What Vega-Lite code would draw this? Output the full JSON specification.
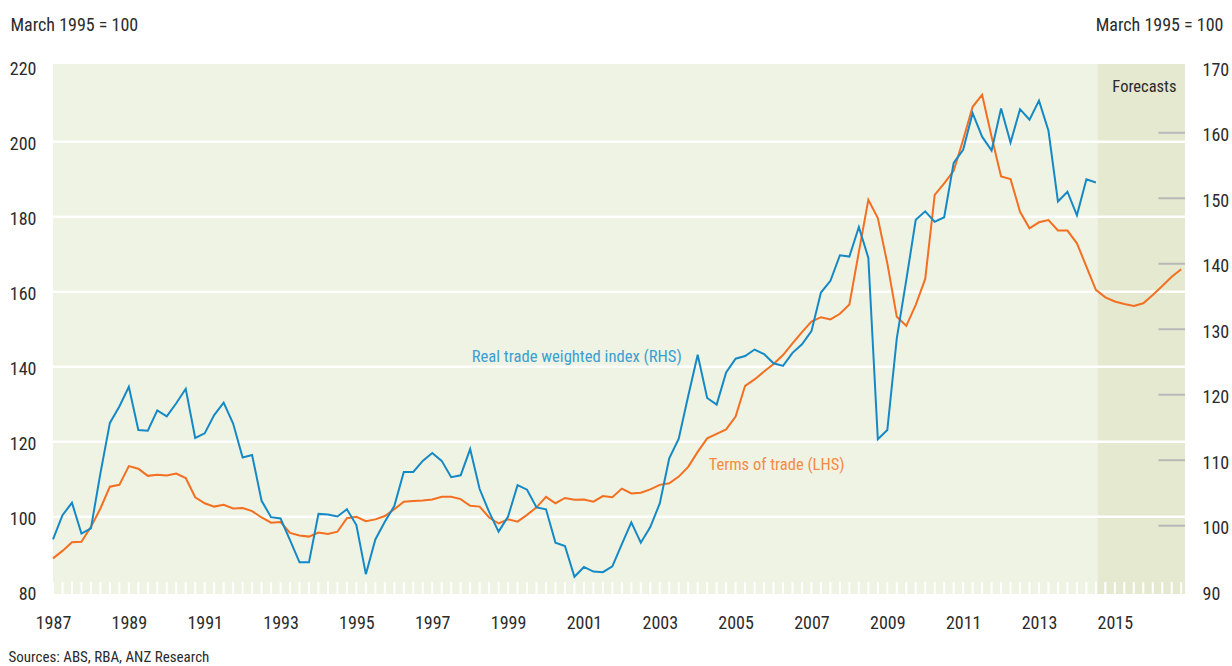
{
  "$schema": "https://vega.github.io/schema/vega-lite/v6.json",
  "width": 1132,
  "height": 530,
  "autosize": {"type": "none"},
  "padding": {"left": 53, "top": 64, "right": 47, "bottom": 72},
  "background": "white",
  "config": {
    "view": {"fill": "#EFF3E3", "stroke": null},
    "font": "Roboto Condensed, Liberation Sans Narrow, DejaVu Sans Condensed, sans-serif"
  },
  "datasets": {
    "tot": [
      {"t":1987,"v":88.9},{"t":1987.25,"v":90.9},{"t":1987.5,"v":93.2},{"t":1987.75,"v":93.3},
      {"t":1988,"v":97.3},{"t":1988.25,"v":102.2},{"t":1988.5,"v":108.0},{"t":1988.75,"v":108.5},
      {"t":1989,"v":113.5},{"t":1989.25,"v":112.8},{"t":1989.5,"v":110.9},{"t":1989.75,"v":111.2},
      {"t":1990,"v":111.0},{"t":1990.25,"v":111.5},{"t":1990.5,"v":110.3},{"t":1990.75,"v":105.2},
      {"t":1991,"v":103.6},{"t":1991.25,"v":102.7},{"t":1991.5,"v":103.2},{"t":1991.75,"v":102.2},
      {"t":1992,"v":102.3},{"t":1992.25,"v":101.5},{"t":1992.5,"v":99.8},{"t":1992.75,"v":98.4},
      {"t":1993,"v":98.6},{"t":1993.25,"v":95.7},{"t":1993.5,"v":95.0},{"t":1993.75,"v":94.7},
      {"t":1994,"v":95.8},{"t":1994.25,"v":95.4},{"t":1994.5,"v":96.0},{"t":1994.75,"v":99.6},
      {"t":1995,"v":100.0},{"t":1995.25,"v":98.8},{"t":1995.5,"v":99.3},{"t":1995.75,"v":100.2},
      {"t":1996,"v":102.0},{"t":1996.25,"v":104.0},{"t":1996.5,"v":104.2},{"t":1996.75,"v":104.3},
      {"t":1997,"v":104.6},{"t":1997.25,"v":105.3},{"t":1997.5,"v":105.3},{"t":1997.75,"v":104.7},
      {"t":1998,"v":102.9},{"t":1998.25,"v":102.7},{"t":1998.5,"v":99.8},{"t":1998.75,"v":98.2},
      {"t":1999,"v":99.3},{"t":1999.25,"v":98.7},{"t":1999.5,"v":100.5},{"t":1999.75,"v":102.5},
      {"t":2000,"v":105.3},{"t":2000.25,"v":103.6},{"t":2000.5,"v":105.0},{"t":2000.75,"v":104.5},
      {"t":2001,"v":104.6},{"t":2001.25,"v":104.0},{"t":2001.5,"v":105.5},{"t":2001.75,"v":105.2},
      {"t":2002,"v":107.5},{"t":2002.25,"v":106.2},{"t":2002.5,"v":106.4},{"t":2002.75,"v":107.3},
      {"t":2003,"v":108.5},{"t":2003.25,"v":108.9},{"t":2003.5,"v":110.7},{"t":2003.75,"v":113.3},
      {"t":2004,"v":117.3},{"t":2004.25,"v":120.9},{"t":2004.5,"v":122.1},{"t":2004.75,"v":123.3},
      {"t":2005,"v":126.7},{"t":2005.25,"v":134.9},{"t":2005.5,"v":136.6},{"t":2005.75,"v":138.7},
      {"t":2006,"v":140.7},{"t":2006.25,"v":143.1},{"t":2006.5,"v":146.2},{"t":2006.75,"v":149.2},
      {"t":2007,"v":152.0},{"t":2007.25,"v":153.2},{"t":2007.5,"v":152.6},{"t":2007.75,"v":154.1},
      {"t":2008,"v":156.6},{"t":2008.25,"v":170.6},{"t":2008.5,"v":184.5},{"t":2008.75,"v":179.6},
      {"t":2009,"v":167.6},{"t":2009.25,"v":153.3},{"t":2009.5,"v":150.9},{"t":2009.75,"v":156.5},
      {"t":2010,"v":163.4},{"t":2010.25,"v":185.8},{"t":2010.5,"v":188.9},{"t":2010.75,"v":192.2},
      {"t":2011,"v":200.5},{"t":2011.25,"v":209.3},{"t":2011.5,"v":212.5},{"t":2011.75,"v":201.3},
      {"t":2012,"v":190.7},{"t":2012.25,"v":190.0},{"t":2012.5,"v":181.3},{"t":2012.75,"v":176.9},
      {"t":2013,"v":178.5},{"t":2013.25,"v":179.1},{"t":2013.5,"v":176.3},{"t":2013.75,"v":176.3},
      {"t":2014,"v":172.9},{"t":2014.25,"v":166.7},{"t":2014.5,"v":160.5},{"t":2014.75,"v":158.5},
      {"t":2015,"v":157.4},{"t":2015.25,"v":156.7},{"t":2015.5,"v":156.2},{"t":2015.75,"v":156.9},
      {"t":2016,"v":159.1},{"t":2016.25,"v":161.5},{"t":2016.5,"v":164.0},{"t":2016.75,"v":166.0}
    ],
    "rtwi": [
      {"t":1987,"v":97.9},{"t":1987.25,"v":101.6},{"t":1987.5,"v":103.5},{"t":1987.75,"v":98.8},
      {"t":1988,"v":99.6},{"t":1988.25,"v":108.0},{"t":1988.5,"v":115.7},{"t":1988.75,"v":118.2},
      {"t":1989,"v":121.2},{"t":1989.25,"v":114.6},{"t":1989.5,"v":114.5},{"t":1989.75,"v":117.6},
      {"t":1990,"v":116.7},{"t":1990.25,"v":118.7},{"t":1990.5,"v":120.9},{"t":1990.75,"v":113.4},
      {"t":1991,"v":114.1},{"t":1991.25,"v":116.9},{"t":1991.5,"v":118.8},{"t":1991.75,"v":115.6},
      {"t":1992,"v":110.4},{"t":1992.25,"v":110.8},{"t":1992.5,"v":103.8},{"t":1992.75,"v":101.3},
      {"t":1993,"v":101.1},{"t":1993.25,"v":97.8},{"t":1993.5,"v":94.4},{"t":1993.75,"v":94.4},
      {"t":1994,"v":101.8},{"t":1994.25,"v":101.7},{"t":1994.5,"v":101.4},{"t":1994.75,"v":102.5},
      {"t":1995,"v":100.1},{"t":1995.25,"v":92.6},{"t":1995.5,"v":97.9},{"t":1995.75,"v":100.6},
      {"t":1996,"v":103.0},{"t":1996.25,"v":108.2},{"t":1996.5,"v":108.2},{"t":1996.75,"v":109.9},
      {"t":1997,"v":111.1},{"t":1997.25,"v":109.9},{"t":1997.5,"v":107.4},{"t":1997.75,"v":107.7},
      {"t":1998,"v":111.7},{"t":1998.25,"v":105.6},{"t":1998.5,"v":102.1},{"t":1998.75,"v":99.1},
      {"t":1999,"v":101.4},{"t":1999.25,"v":106.2},{"t":1999.5,"v":105.5},{"t":1999.75,"v":102.8},
      {"t":2000,"v":102.5},{"t":2000.25,"v":97.4},{"t":2000.5,"v":96.9},{"t":2000.75,"v":92.2},
      {"t":2001,"v":93.7},{"t":2001.25,"v":93.0},{"t":2001.5,"v":92.9},{"t":2001.75,"v":93.8},
      {"t":2002,"v":97.2},{"t":2002.25,"v":100.5},{"t":2002.5,"v":97.4},{"t":2002.75,"v":99.8},
      {"t":2003,"v":103.4},{"t":2003.25,"v":110.3},{"t":2003.5,"v":113.3},{"t":2003.75,"v":119.8},
      {"t":2004,"v":126.1},{"t":2004.25,"v":119.5},{"t":2004.5,"v":118.5},{"t":2004.75,"v":123.4},
      {"t":2005,"v":125.5},{"t":2005.25,"v":125.9},{"t":2005.5,"v":126.9},{"t":2005.75,"v":126.2},
      {"t":2006,"v":124.8},{"t":2006.25,"v":124.4},{"t":2006.5,"v":126.4},{"t":2006.75,"v":127.7},
      {"t":2007,"v":129.7},{"t":2007.25,"v":135.6},{"t":2007.5,"v":137.4},{"t":2007.75,"v":141.3},
      {"t":2008,"v":141.1},{"t":2008.25,"v":145.6},{"t":2008.5,"v":140.9},{"t":2008.75,"v":113.2},
      {"t":2009,"v":114.6},{"t":2009.25,"v":128.6},{"t":2009.5,"v":137.5},{"t":2009.75,"v":146.7},
      {"t":2010,"v":148.0},{"t":2010.25,"v":146.4},{"t":2010.5,"v":147.1},{"t":2010.75,"v":155.4},
      {"t":2011,"v":157.4},{"t":2011.25,"v":163.0},{"t":2011.5,"v":159.4},{"t":2011.75,"v":157.3},
      {"t":2012,"v":163.7},{"t":2012.25,"v":158.5},{"t":2012.5,"v":163.6},{"t":2012.75,"v":162.0},
      {"t":2013,"v":164.9},{"t":2013.25,"v":160.3},{"t":2013.5,"v":149.5},{"t":2013.75,"v":151.0},
      {"t":2014,"v":147.4},{"t":2014.25,"v":152.9},{"t":2014.5,"v":152.4}
    ],
    "grid": [{"v":100},{"v":120},{"v":140},{"v":160},{"v":180},{"v":200}],
    "rticks": [{"v":100},{"v":110},{"v":120},{"v":130},{"v":140},{"v":150},{"v":160}],
    "forecast": [{"t":2014.55,"t2":2016.85}]
  },
  "layer": [
    {
      "data": {"name": "forecast"},
      "mark": {"type": "rect", "color": "#E5E9CF"},
      "encoding": {
        "x": {"field": "t", "type": "quantitative", "scale": {"domain": [1987, 2016.85], "nice": false, "zero": false}},
        "x2": {"field": "t2"}
      }
    },
    {
      "data": {"name": "grid"},
      "mark": {"type": "rule", "color": "white", "strokeWidth": 2.5},
      "encoding": {
        "y": {"field": "v", "type": "quantitative", "scale": {"domain": [79.4, 220.7], "nice": false, "zero": false}, "axis": null}
      }
    },
    {
      "data": {"name": "tot"},
      "mark": {"type": "rule", "color": "white", "strokeWidth": 2},
      "encoding": {
        "x": {"field": "t", "type": "quantitative", "scale": {"domain": [1987, 2016.85], "nice": false, "zero": false}},
        "y": {"datum": 79.4, "type": "quantitative", "scale": {"domain": [79.4, 220.7], "nice": false, "zero": false}, "axis": null},
        "y2": {"datum": 82.6}
      }
    },
    {
      "data": {"name": "rticks"},
      "mark": {"type": "rule", "color": "#B8B8B8", "strokeWidth": 2},
      "encoding": {
        "x": {"datum": 2016.15, "type": "quantitative", "scale": {"domain": [1987, 2016.85], "nice": false, "zero": false}},
        "x2": {"datum": 2016.85},
        "y": {"field": "v", "type": "quantitative", "scale": {"domain": [89.57, 170.5], "nice": false, "zero": false}, "axis": null}
      }
    },
    {
      "data": {"name": "tot"},
      "mark": {"type": "line", "color": "#F36F21", "strokeWidth": 2},
      "encoding": {
        "x": {
          "field": "t", "type": "quantitative",
          "scale": {"domain": [1987, 2016.85], "nice": false, "zero": false},
          "axis": {
            "values": [1987,1989,1991,1993,1995,1997,1999,2001,2003,2005,2007,2009,2011,2013,2015],
            "format": "d", "domain": false, "ticks": false, "grid": false,
            "labelFlush": false, "labelOverlap": false, "labelBound": false,
            "labelFontSize": 18, "labelColor": "#2b2b2b", "labelPadding": 20,
            "title": "Sources: ABS, RBA, ANZ Research",
            "titleFontSize": 15, "titleFontWeight": "normal", "titleColor": "#2b2b2b",
            "titleAlign": "left", "titleBaseline": "alphabetic", "titleX": -45, "titleY": 67
          }
        },
        "y": {
          "field": "v", "type": "quantitative",
          "scale": {"domain": [79.4, 220.7], "nice": false, "zero": false},
          "axis": {
            "orient": "left",
            "values": [80,100,120,140,160,180,200,220],
            "domain": false, "ticks": false, "grid": false,
            "labelFlush": false, "labelOverlap": false,
            "labelFontSize": 18, "labelColor": "#2b2b2b", "labelPadding": 17, "labelOffset": 3,
            "title": "March 1995 = 100",
            "titleFontSize": 18, "titleFontWeight": "normal", "titleColor": "#2b2b2b",
            "titleAngle": 0, "titleAlign": "left", "titleBaseline": "alphabetic",
            "titleX": -43, "titleY": -34
          }
        }
      }
    },
    {
      "data": {"name": "rtwi"},
      "mark": {"type": "line", "color": "#1589C6", "strokeWidth": 2},
      "encoding": {
        "x": {"field": "t", "type": "quantitative", "scale": {"domain": [1987, 2016.85], "nice": false, "zero": false}},
        "y": {
          "field": "v", "type": "quantitative",
          "scale": {"domain": [89.57, 170.5], "nice": false, "zero": false},
          "axis": {
            "orient": "right",
            "values": [90,100,110,120,130,140,150,160,170],
            "domain": false, "ticks": false, "grid": false,
            "labelFlush": false, "labelOverlap": false,
            "labelFontSize": 18, "labelColor": "#2b2b2b", "labelPadding": 17, "labelOffset": 3,
            "title": "March 1995 = 100",
            "titleFontSize": 18, "titleFontWeight": "normal", "titleColor": "#2b2b2b",
            "titleAngle": 0, "titleAlign": "right", "titleBaseline": "alphabetic",
            "titleX": 38, "titleY": -34
          }
        }
      }
    },
    {
      "data": {"values": [{}]},
      "mark": {"type": "text", "text": "Forecasts", "fontSize": 16.5, "color": "#2b2b2b", "align": "center", "baseline": "middle"},
      "encoding": {
        "x": {"datum": 2015.78, "type": "quantitative", "scale": {"domain": [1987, 2016.85], "nice": false, "zero": false}},
        "y": {"datum": 214.6, "type": "quantitative", "scale": {"domain": [79.4, 220.7], "nice": false, "zero": false}, "axis": null}
      }
    },
    {
      "data": {"values": [{}]},
      "mark": {"type": "text", "text": "Real trade weighted index (RHS)", "fontSize": 16.6, "color": "#3AA0D4", "align": "center", "baseline": "middle"},
      "encoding": {
        "x": {"datum": 2000.81, "type": "quantitative", "scale": {"domain": [1987, 2016.85], "nice": false, "zero": false}},
        "y": {"datum": 142.6, "type": "quantitative", "scale": {"domain": [79.4, 220.7], "nice": false, "zero": false}, "axis": null}
      }
    },
    {
      "data": {"values": [{}]},
      "mark": {"type": "text", "text": "Terms of trade (LHS)", "fontSize": 16.5, "color": "#F58A45", "align": "center", "baseline": "middle"},
      "encoding": {
        "x": {"datum": 2006.08, "type": "quantitative", "scale": {"domain": [1987, 2016.85], "nice": false, "zero": false}},
        "y": {"datum": 113.8, "type": "quantitative", "scale": {"domain": [79.4, 220.7], "nice": false, "zero": false}, "axis": null}
      }
    }
  ],
  "resolve": {"scale": {"y": "independent"}}
}
